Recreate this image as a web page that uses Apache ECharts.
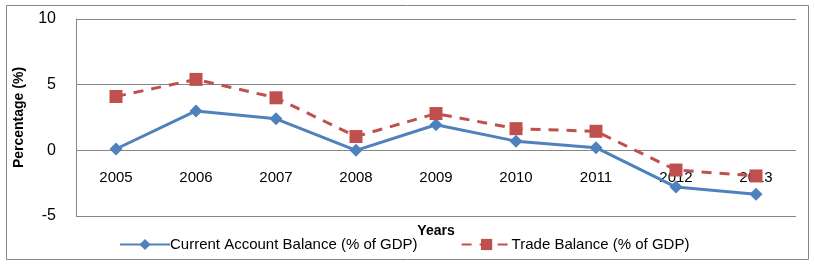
<!DOCTYPE html>
<html><head><meta charset="utf-8">
<script src="https://cdn.jsdelivr.net/npm/echarts@6/dist/echarts.min.js"></script>
<style>html,body{margin:0;padding:0;background:#fff}#c{width:815px;height:267px}</style>
</head><body><div id="c"></div>
<script>
const years = ['2005','2006','2007','2008','2009','2010','2011','2012','2013'];
const currentAccount = [0.1, 3.0, 2.4, 0.0, 1.95, 0.7, 0.2, -2.8, -3.35];
const tradeBalance = [4.1, 5.4, 4.0, 1.05, 2.8, 1.65, 1.45, -1.5, -1.95];
const yTicks = {min: -5, max: 10, interval: 5};
const seriesNames = ['Current Account Balance (% of GDP)', 'Trade Balance (% of GDP)'];

const font = 'Liberation Sans';
const chart = echarts.init(document.getElementById('c'), null, {renderer: 'canvas'});
chart.setOption({
  animation: false,
  backgroundColor: '#fff',
  graphic: [{type: 'rect', shape: {x: 6.5, y: 5.5, width: 802, height: 254}, style: {fill: 'none', stroke: '#868686', lineWidth: 1}, z: -1}],
  grid: {left: 76, right: 19, top: 19, bottom: 51, containLabel: false, outerBoundsMode: 'none'},
  xAxis: {
    type: 'category', data: years, boundaryGap: true,
    axisLine: {show: false, onZero: false}, axisTick: {show: false},
    axisLabel: {color: '#000', fontFamily: font, fontSize: 15, margin: -46},
    name: 'Years', nameLocation: 'middle', nameGap: 8, nameMoveOverlap: false,
    nameTextStyle: {fontFamily: font, fontWeight: 'bold', fontSize: 14, color: '#000'}
  },
  yAxis: {
    type: 'value', min: yTicks.min, max: yTicks.max, interval: yTicks.interval,
    axisLine: {show: true, lineStyle: {color: '#868686', width: 1}},
    axisTick: {show: false},
    splitLine: {lineStyle: {color: '#868686', width: 1}},
    axisLabel: {color: '#000', fontFamily: font, fontSize: 16, margin: 20},
    name: 'Percentage (%)', nameLocation: 'middle', nameGap: 50, nameRotate: 90,
    nameTextStyle: {fontFamily: font, fontWeight: 'bold', fontSize: 14, color: '#000'}
  },
  legend: {
    bottom: 10, left: 114, itemGap: 43, itemWidth: 50, itemHeight: 14,
    textStyle: {fontFamily: font, fontSize: 15, color: '#000', padding: [0,0,0,-5]},
    data: seriesNames
  },
  series: [
    {name: seriesNames[0], type: 'line', data: currentAccount, color: '#4F81BD',
     symbol: 'diamond', symbolSize: 13, lineStyle: {width: 3, color: '#4F81BD'},
     itemStyle: {color: '#4F81BD'}},
    {name: seriesNames[1], type: 'line', data: tradeBalance, color: '#C0504D',
     symbol: 'rect', symbolSize: 13, lineStyle: {width: 3, type: [10, 8], color: '#C0504D'},
     itemStyle: {color: '#C0504D'}}
  ]
});
</script></body></html>
